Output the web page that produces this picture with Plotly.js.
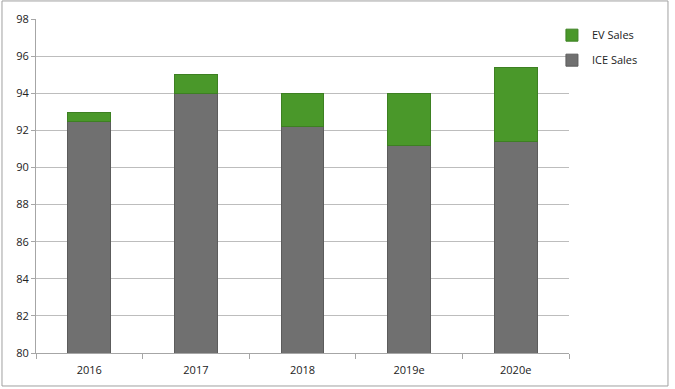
<!DOCTYPE html>
<html>
<head>
<meta charset="utf-8">
<script src="https://cdn.plot.ly/plotly-3.0.1.min.js"></script>
<style>html,body{margin:0;padding:0;background:#fff;}#chart{width:675px;height:389px;}</style>
</head>
<body>
<div id="chart"></div>
<script>
const categories = ["2016", "2017", "2018", "2019e", "2020e"];
const iceSales = [92.5, 94.0, 92.2, 91.2, 91.4];
const evSales = [0.45, 1.0, 1.8, 2.8, 4.0];
const yTicks = [80, 82, 84, 86, 88, 90, 92, 94, 96, 98];

const font = {family: "Open Sans, Liberation Sans, sans-serif", size: 11, color: "#222"};

const traces = [
  {
    type: "bar", name: "ICE Sales", x: categories, y: iceSales,
    marker: {color: "#707070", line: {color: "#5c5c5c", width: 1}},
    legendgroup: "ice", legendrank: 2, width: 0.4
  },
  {
    type: "bar", name: "EV Sales", x: categories, y: evSales,
    marker: {color: "#4a982a", line: {color: "#3d8022", width: 1}},
    legendgroup: "ev", legendrank: 1, width: 0.4
  }
];

const layout = {
  width: 675, height: 389,
  margin: {l: 36, r: 106, t: 19, b: 36},
  paper_bgcolor: "#fff", plot_bgcolor: "#fff",
  barmode: "stack",
  font: font,
  showlegend: true,
  legend: {x: 0.968, y: 0.995, xanchor: "left", yanchor: "top",
           itemwidth: 30, bgcolor: "rgba(0,0,0,0)",
           traceorder: "grouped", tracegroupgap: 6,
           font: {family: font.family, size: 11, color: "#222"}},
  xaxis: {
    type: "category", showline: true, linecolor: "#a6a6a6", linewidth: 1,
    ticks: "outside", tickson: "boundaries", ticklen: 5, tickcolor: "#a6a6a6",
    ticklabelstandoff: 7,
    showgrid: false, tickfont: {size: 11}
  },
  yaxis: {
    range: [80, 98], tickvals: yTicks, showline: true, linecolor: "#a6a6a6",
    ticks: "outside", ticklen: 4, tickcolor: "#a6a6a6",
    gridcolor: "#bdbdbd", gridwidth: 1, zeroline: false, tickfont: {size: 11}
  },
  shapes: [
    {type: "rect", xref: "paper", yref: "paper", x0: -0.0638, x1: 1.1857, y0: -0.0988, y1: 1.054,
     line: {color: "#a0a0a0", width: 1}, fillcolor: "rgba(0,0,0,0)"}
  ]
};

Plotly.newPlot("chart", traces, layout, {displayModeBar: false, staticPlot: true});
</script>
</body>
</html>
